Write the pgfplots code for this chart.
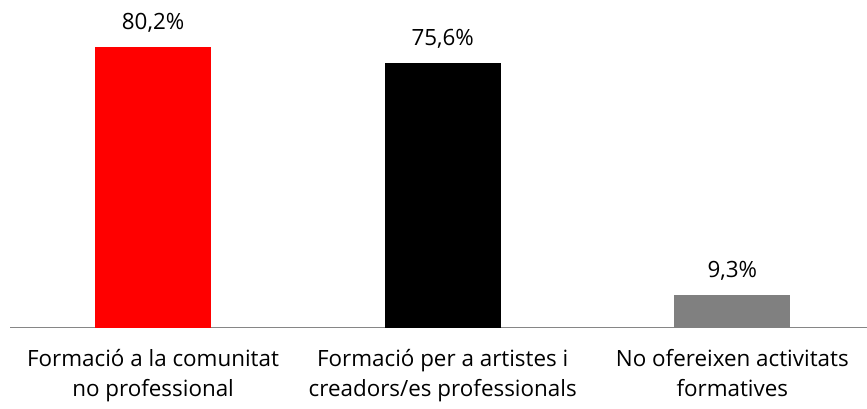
\documentclass[border=0pt]{standalone}
\usepackage{fontspec}
\setmainfont{Open Sans}
\usepackage{pgfplots}
\pgfplotsset{compat=1.18}
\definecolor{barred}{HTML}{FF0000}
\definecolor{bargray}{HTML}{808080}
\definecolor{axisgray}{HTML}{868686}
\begin{document}
\begin{tikzpicture}
\useasboundingbox (-10pt,-80.5pt) rectangle (857pt,327.5pt);
\begin{axis}[
  at={(0pt,0pt)}, anchor=south west,
  scale only axis, width=857pt, height=315pt,
  xmin=-0.494, xmax=2.465, ymin=0, ymax=90,
  axis x line*=bottom, axis y line=none,
  x axis line style={draw=axisgray, line width=1.6pt, -},
  xtick={0,1,2}, major tick length=0pt,
  xticklabels={{Formació a la comunitat\\no professional},{Formació per a artistes i\\creadors/es professionals},{No ofereixen activitats\\formatives}},
  xticklabel style={align=center, anchor=north, inner sep=0pt, yshift=-21.5pt, font=\fontsize{22.4}{30.5}\selectfont},
  ytick=\empty,
  bar width=116pt, ybar=0pt, bar shift=0pt,
  /pgf/number format/assume math mode=true,
  nodes near coords={\pgfmathprintnumber[fixed,fixed zerofill,precision=1,use comma,assume math mode=true]{\pgfplotspointmeta}\%},
  nodes near coords style={anchor=base, inner sep=0pt, yshift=17pt, font=\fontsize{22.4}{26}\selectfont, text=black},
  clip=false,
]
\addplot[fill=barred, draw=none] coordinates {(0,80.2)};
\addplot[fill=black, draw=none] coordinates {(1,75.6)};
\addplot[fill=bargray, draw=none] coordinates {(2,9.3)};
\end{axis}
\end{tikzpicture}
\end{document}
